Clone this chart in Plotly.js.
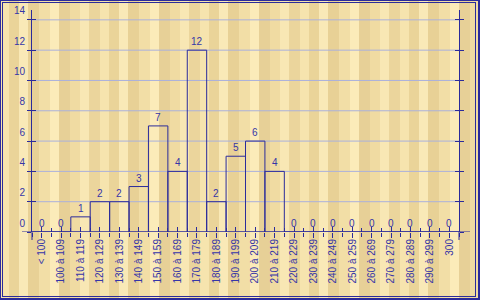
<!DOCTYPE html>
<html><head><meta charset="utf-8">
<script src="https://cdn.plot.ly/plotly-3.0.1.min.js"></script>
<style>
html,body{margin:0;padding:0;}
#wrap{position:relative;width:480px;height:300px;overflow:hidden;
background:repeating-linear-gradient(90deg,
#f6e4ae 0px,#f6e4ae 9px,#ead499 9px,#ead499 19px,#f9e9b7 19px,#f9e9b7 28px,
#e8d196 28px,#e8d196 39px,#f2dea6 39px,#f2dea6 50px,#fbebb9 50px,#fbebb9 59px,
#e7d097 59px,#e7d097 70px,#f0dba2 70px,#f0dba2 80px,#f8e7b4 80px,#f8e7b4 89px,
#ebd59c 89px,#ebd59c 100px);}
#chart{position:absolute;left:0;top:0;width:480px;height:300px;}
.b1{position:absolute;left:0;top:0;width:480px;height:300px;box-sizing:border-box;
border-left:1px solid #2b2b9b;border-top:1px solid #2b2b9b;border-right:2px solid #2b2b9b;border-bottom:2px solid #2b2b9b;pointer-events:none;}
.b2{position:absolute;left:2px;top:2px;width:474px;height:295px;box-sizing:border-box;border:1px solid #2b2b9b;pointer-events:none;}
</style></head>
<body><div id="wrap"><div id="chart"></div><div class="b1"></div><div class="b2"></div></div>
<script>
const categories = ["< 100","100 à 109","110 à 119","120 à 129","130 à 139","140 à 149","150 à 159","160 à 169","170 à 179","180 à 189","190 à 199","200 à 209","210 à 219","220 à 229","230 à 239","240 à 249","250 à 259","260 à 269","270 à 279","280 à 289","290 à 299","300"];
const counts = [0,0,1,2,2,3,7,4,12,2,5,6,4,0,0,0,0,0,0,0,0,0];
const yTicks = [0,2,4,6,8,10,12,14];

const LINE = '#2b2b9b';
const TXT = '#3535a8';
const GRID = '#aab0dc';
const FONT = 'Liberation Sans, Arial, sans-serif';
const idx = categories.map((c,i)=>i);
const bounds = categories.map((c,i)=>i-0.5).concat([categories.length-0.5]);
const xr = [-0.5, categories.length-0.5];
const yr = [0, 14.65];

const traces = [
  {type:'bar', x:idx, y:counts, width:1, marker:{color:'rgba(0,0,0,0)', line:{color:LINE, width:1}}, hoverinfo:'none', showlegend:false}
];

const valueLabels = counts.map((v,i)=>({x:idx[i], y:v, xref:'x', yref:'y', text:String(v), showarrow:false,
  yanchor:'bottom', xanchor:'center', yshift:1, font:{family:FONT, size:10, color:TXT}}));

const gridShapes = yTicks.filter(v=>v>0).map(v=>({type:'line', xref:'paper', yref:'y', x0:0, x1:1, y0:v, y1:v, layer:'below', line:{color:GRID, width:1}}));

const xbase = {range:xr, type:'linear', showgrid:false, zeroline:false, showline:false, fixedrange:true};
const layout = {
  width:480, height:300,
  margin:{l:32, r:21, t:10, b:68},
  paper_bgcolor:'rgba(0,0,0,0)', plot_bgcolor:'rgba(0,0,0,0)',
  bargap:0, showlegend:false,
  font:{family:FONT, size:10, color:TXT},
  annotations:valueLabels,
  xaxis:Object.assign({}, xbase, {tickmode:'array', tickvals:idx, ticktext:categories, tickangle:-90,
    ticks:'outside', ticklen:5, tickcolor:LINE, tickwidth:1, ticklabelstandoff:-3, tickfont:{family:FONT, size:10, color:TXT}}),
  xaxis2:Object.assign({}, xbase, {overlaying:'x', tickmode:'array', tickvals:idx, ticks:'inside', ticklen:5, tickcolor:LINE, showticklabels:false}),
  xaxis3:Object.assign({}, xbase, {overlaying:'x', tickmode:'array', tickvals:bounds, ticks:'outside', ticklen:4, tickcolor:LINE, showticklabels:false}),
  xaxis4:Object.assign({}, xbase, {overlaying:'x', tickmode:'array', tickvals:bounds, ticks:'inside', ticklen:4, tickcolor:LINE, showticklabels:false}),
  yaxis:{range:yr, tickmode:'array', tickvals:yTicks, ticks:'outside', ticklen:4, tickcolor:LINE,
    showline:true, linecolor:LINE, linewidth:1, mirror:'ticks', showgrid:false,
    zeroline:false, ticklabelshift:-9, tickfont:{family:FONT, size:10, color:TXT}, fixedrange:true},
  yaxis2:{overlaying:'y', range:yr, tickmode:'array', tickvals:yTicks, ticks:'inside', ticklen:4, tickcolor:LINE,
    showline:false, mirror:'ticks', showgrid:false, zeroline:false, showticklabels:false, fixedrange:true},
  shapes:gridShapes.concat([
    {type:'line', xref:'paper', yref:'y', x0:-10/427, x1:1+11/427, y0:0, y1:0, line:{color:LINE, width:1}},
    {type:'line', xref:'paper', yref:'paper', x0:0, x1:0, y0:0, y1:-8/222, line:{color:LINE, width:1}},
    {type:'line', xref:'paper', yref:'paper', x0:1, x1:1, y0:0, y1:-8/222, line:{color:LINE, width:1}}
  ])
};
traces.push({type:'scatter', x:[], y:[], xaxis:'x2', yaxis:'y2', showlegend:false});
traces.push({type:'scatter', x:[], y:[], xaxis:'x3', yaxis:'y', showlegend:false});
traces.push({type:'scatter', x:[], y:[], xaxis:'x4', yaxis:'y', showlegend:false});
Plotly.newPlot('chart', traces, layout, {staticPlot:true, displayModeBar:false});
</script></body></html>
